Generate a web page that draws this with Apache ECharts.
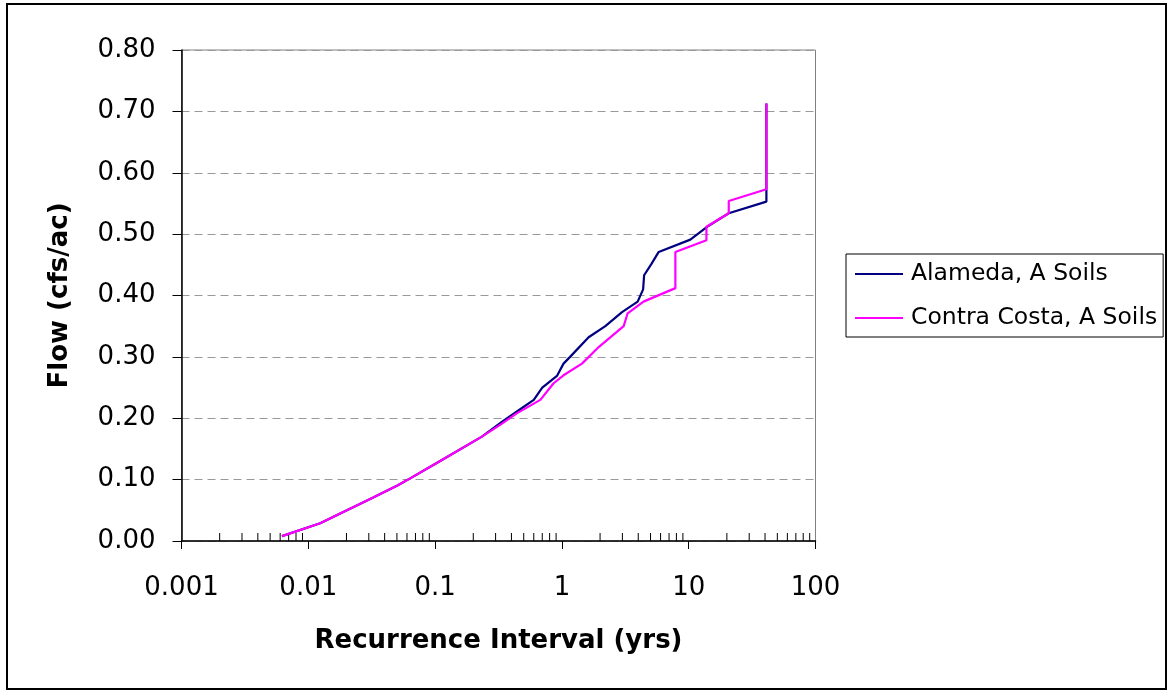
<!DOCTYPE html>
<html>
<head>
<meta charset="utf-8">
<script src="https://cdn.jsdelivr.net/npm/echarts@6/dist/echarts.min.js"></script>
<style>
html,body{margin:0;padding:0;background:#fff;}
#chart{width:1169px;height:692px;}
</style>
</head>
<body>
<div id="chart"></div>
<script>
// Recurrence interval (yrs) and flow (cfs/ac) pairs
const alamedaX = [0.0062, 0.0124, 0.0325, 0.05, 0.0636, 0.103, 0.234, 0.336, 0.442, 0.6, 0.70, 0.914, 1.03, 1.16, 1.625, 2.2, 2.98, 3.96, 4.37, 4.45, 5.1, 5.8, 10.3, 13.96, 20.7, 41, 41, 41];
const alamedaY = [0.008, 0.029, 0.071, 0.09, 0.102, 0.127, 0.17, 0.194, 0.211, 0.23, 0.25, 0.269, 0.289, 0.30, 0.332, 0.35, 0.373, 0.39, 0.41, 0.433, 0.452, 0.471, 0.491, 0.512, 0.534, 0.553, 0.573, 0.713];
const contraX = [0.0062, 0.0124, 0.0325, 0.05, 0.0636, 0.103, 0.234, 0.33, 0.44, 0.676, 0.86, 1.03, 1.44, 1.95, 3.07, 3.3, 4.4, 7.85, 7.85, 13.8, 13.8, 20.7, 20.7, 41, 41];
const contraY = [0.008, 0.029, 0.071, 0.09, 0.102, 0.127, 0.17, 0.19, 0.208, 0.23, 0.257, 0.27, 0.289, 0.316, 0.35, 0.371, 0.39, 0.412, 0.471, 0.49, 0.512, 0.534, 0.554, 0.573, 0.713];
const seriesNames = ['Alameda, A Soils', 'Contra Costa, A Soils'];
const xTickLabels = ['0.001', '0.01', '0.1', '1', '10', '100'];
const xTickValues = [0.001, 0.01, 0.1, 1, 10, 100];
const yTickLabels = ['0.00', '0.10', '0.20', '0.30', '0.40', '0.50', '0.60', '0.70', '0.80'];
const minorDecades = [0.001, 0.01, 0.1, 1, 10];
const minorMultipliers = [2, 3, 4, 5, 6, 7, 8, 9];

const FONT = 'DejaVu Sans';
const pairs = (xs, ys) => xs.map((x, i) => [x, ys[i]]);
const minorTicks = [];
minorDecades.forEach(d => minorMultipliers.forEach(m => minorTicks.push([d * m, 0])));

const chart = echarts.init(document.getElementById('chart'), null, {renderer: 'canvas'});
chart.setOption({
  animation: false,
  backgroundColor: '#fff',
  graphic: [{
    type: 'rect',
    shape: {x: 7, y: 4, width: 1159, height: 685},
    style: {fill: 'none', stroke: '#000', lineWidth: 2},
    silent: true, z: -1
  }],
  grid: {
    left: 181.5, right: 353.5, top: 50, bottom: 151,
    show: true, borderColor: '#808080', borderWidth: 1, backgroundColor: 'transparent'
  },
  legend: {
    data: seriesNames,
    orient: 'vertical',
    left: 846, top: 254,
    padding: [6, 6, 5, 9],
    borderColor: '#000', borderWidth: 1,
    icon: 'rect', itemWidth: 48, itemHeight: 2,
    itemGap: 16,
    textStyle: {fontFamily: FONT, fontSize: 23.5, color: '#000', lineHeight: 28, padding: [0, 0, 0, 3]}
  },
  xAxis: {
    type: 'log', logBase: 10, min: 0.001, max: 100,
    name: 'Recurrence Interval (yrs)', nameLocation: 'middle', nameGap: 87,
    nameTextStyle: {fontFamily: FONT, fontSize: 26, fontWeight: 'bold', color: '#000'},
    axisLine: {show: true, onZero: false, lineStyle: {color: '#000', width: 1.5}},
    axisTick: {show: true, inside: false, length: 8, lineStyle: {color: '#000'}},
    axisLabel: {
      fontFamily: FONT, fontSize: 26, color: '#000', margin: 34,
      formatter: v => {
        let best = 0;
        xTickValues.forEach((t, i) => { if (Math.abs(Math.log10(t) - Math.log10(v)) < Math.abs(Math.log10(xTickValues[best]) - Math.log10(v))) best = i; });
        return xTickLabels[best];
      }
    },
    splitLine: {show: false},
    minorTick: {show: false}
  },
  yAxis: {
    type: 'value', min: 0, max: 0.8, interval: 0.1,
    name: 'Flow (cfs/ac)', nameLocation: 'middle', nameGap: 108, nameRotate: 90,
    nameTextStyle: {fontFamily: FONT, fontSize: 26, fontWeight: 'bold', color: '#000'},
    axisLine: {show: true, lineStyle: {color: '#000', width: 1.5}},
    axisTick: {show: true, inside: false, length: 9, lineStyle: {color: '#000'}},
    axisLabel: {
      fontFamily: FONT, fontSize: 26, color: '#000', margin: 26,
      formatter: v => yTickLabels[Math.round(v * 10)]
    },
    splitLine: {show: true, lineStyle: {color: '#999', width: 1, type: [8, 5]}}
  },
  series: [
    {
      type: 'custom', name: 'minorTicks', silent: true, clip: false, z: 1,
      renderItem: (params, api) => {
        const p = api.coord([api.value(0), api.value(1)]);
        return {type: 'line', shape: {x1: p[0], y1: p[1], x2: p[0], y2: p[1] - 8}, style: {stroke: '#000', lineWidth: 1}};
      },
      encode: {x: 0, y: 1},
      data: minorTicks
    },
    {
      type: 'line', name: seriesNames[0], data: pairs(alamedaX, alamedaY),
      showSymbol: false, symbol: 'none', z: 3,
      lineStyle: {color: '#000080', width: 2.2}, itemStyle: {color: '#000080'}
    },
    {
      type: 'line', name: seriesNames[1], data: pairs(contraX, contraY),
      showSymbol: false, symbol: 'none', z: 4,
      lineStyle: {color: '#FF00FF', width: 2.2}, itemStyle: {color: '#FF00FF'}
    }
  ]
});
</script>
</body>
</html>
